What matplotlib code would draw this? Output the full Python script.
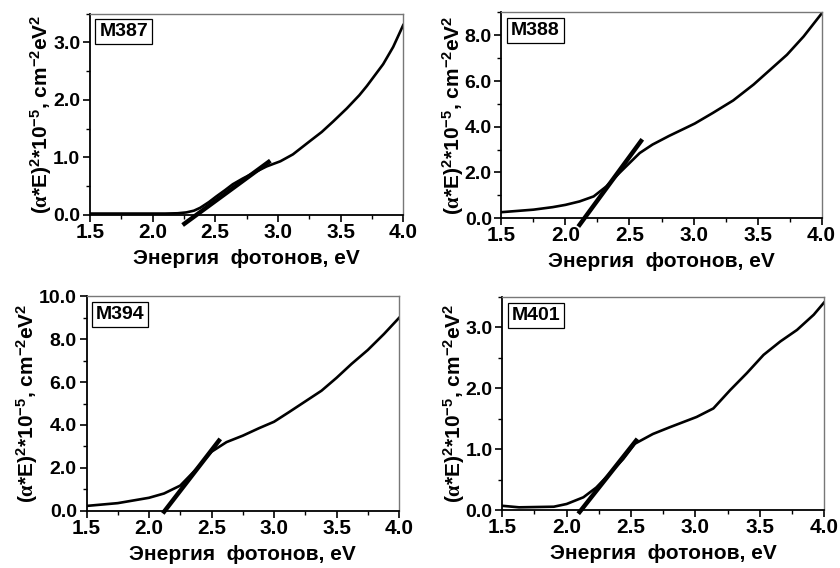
import matplotlib
matplotlib.use("Agg")
import matplotlib.pyplot as plt
from matplotlib.ticker import MultipleLocator, FormatStrFormatter

plt.rcParams['font.family'] = ['Liberation Sans', 'DejaVu Sans']
plt.rcParams['font.weight'] = 'bold'
plt.rcParams['mathtext.fontset'] = 'custom'
plt.rcParams['mathtext.rm'] = 'Liberation Sans:bold'
plt.rcParams['mathtext.bf'] = 'Liberation Sans:bold'
plt.rcParams['mathtext.it'] = 'Liberation Serif'
plt.rcParams['mathtext.cal'] = 'Liberation Serif'

# ---- данные ----
names = ["M387", "M388", "M394", "M401"]

e_387 = [1.5, 1.8, 2.1, 2.2, 2.27, 2.33, 2.38, 2.45, 2.51, 2.58, 2.64, 2.72, 2.8, 2.91,
         3.02, 3.12, 3.255, 3.35, 3.44, 3.55, 3.65, 3.71, 3.84, 3.92, 4.0]
a_387 = [0.02, 0.02, 0.02, 0.025, 0.04, 0.07, 0.12, 0.22, 0.32, 0.43, 0.53, 0.63, 0.72, 0.84,
         0.93, 1.05, 1.28, 1.44, 1.62, 1.85, 2.08, 2.24, 2.62, 2.92, 3.3]
fit_387_e = [2.24, 2.94]
fit_387_a = [-0.18, 0.94]

e_388 = [1.5, 1.75, 1.9, 2.0, 2.11, 2.22, 2.32, 2.42, 2.5, 2.58, 2.68, 2.81, 2.94, 3.01,
         3.15, 3.31, 3.47, 3.6, 3.73, 3.86, 3.93, 4.0]
a_388 = [0.26, 0.37, 0.48, 0.58, 0.73, 0.95, 1.39, 1.97, 2.41, 2.85, 3.22, 3.6, 3.95, 4.14,
         4.6, 5.15, 5.85, 6.5, 7.15, 7.95, 8.45, 8.95]
fit_388_e = [2.1, 2.6]
fit_388_a = [-0.37, 3.45]

e_394 = [1.5, 1.75, 2.0, 2.12, 2.25, 2.38, 2.5, 2.62, 2.75, 2.88, 3.0, 3.12, 3.25,
         3.38, 3.5, 3.62, 3.75, 3.88, 4.0]
a_394 = [0.22, 0.35, 0.6, 0.8, 1.17, 1.95, 2.75, 3.2, 3.5, 3.85, 4.15, 4.6, 5.1,
         5.6, 6.2, 6.85, 7.5, 8.25, 9.0]
fit_394_e = [2.11, 2.57]
fit_394_a = [-0.13, 3.35]

e_401 = [1.5, 1.63, 1.9, 2.0, 2.13, 2.23, 2.33, 2.44, 2.53, 2.67, 2.8, 3.01, 3.14, 3.27,
         3.4, 3.53, 3.66, 3.79, 3.92, 4.0]
a_401 = [0.07, 0.045, 0.055, 0.1, 0.21, 0.37, 0.59, 0.84, 1.09, 1.25, 1.36, 1.53, 1.67, 1.97,
         2.25, 2.55, 2.77, 2.96, 3.21, 3.41]
fit_401_e = [2.09, 2.55]
fit_401_a = [-0.06, 1.17]

energies = [e_387, e_388, e_394, e_401]
values = [a_387, a_388, a_394, a_401]
fits_e = [fit_387_e, fit_388_e, fit_394_e, fit_401_e]
fits_a = [fit_387_a, fit_388_a, fit_394_a, fit_401_a]
y_max = [3.5, 9.0, 10.0, 3.5]
y_major = [1.0, 2.0, 2.0, 1.0]

# положения осей (left, bottom, width, height)
boxes = [[0.107, 0.622, 0.373, 0.354],
         [0.597, 0.616, 0.381, 0.362],
         [0.103, 0.101, 0.372, 0.377],
         [0.598, 0.102, 0.383, 0.375]]

ylab = r'($\mathcal{\alpha}$*E)$^{2}$*10$^{-5}$, cm$^{-2}$eV$^{2}$'

fig = plt.figure(figsize=(8.4, 5.68), dpi=100)

for i in range(4):
    ax = fig.add_axes(boxes[i])
    ax.plot(energies[i], values[i], color="black", lw=1.9)
    ax.plot(fits_e[i], fits_a[i], color="black", lw=3.2, solid_capstyle="butt", clip_on=False)
    ax.set_xlim(1.5, 4.0)
    ax.set_ylim(0, y_max[i])
    ax.xaxis.set_major_locator(MultipleLocator(0.5))
    ax.xaxis.set_minor_locator(MultipleLocator(0.25))
    ax.yaxis.set_major_locator(MultipleLocator(y_major[i]))
    ax.yaxis.set_minor_locator(MultipleLocator(y_major[i] / 2))
    ax.xaxis.set_major_formatter(FormatStrFormatter('%.1f'))
    ax.yaxis.set_major_formatter(FormatStrFormatter('%.1f'))
    ax.tick_params(axis='x', which='major', labelsize=15, length=5, width=1.2, pad=1)
    ax.tick_params(axis='y', which='major', labelsize=14, length=5, width=1.2, pad=2)
    ax.tick_params(which='minor', length=3, width=1)
    for s in ['left', 'bottom']:
        ax.spines[s].set_linewidth(1.3)
        ax.spines[s].set_color('black')
    for s in ['top', 'right']:
        ax.spines[s].set_linewidth(1.0)
        ax.spines[s].set_color('#777777')
    ax.set_xlabel("Энергия  фотонов, eV", fontsize=15, fontweight='bold', labelpad=5)
    ax.set_ylabel(ylab, fontsize=15, fontweight='bold', labelpad=-1)
    ax.text(0.03, 0.955, names[i], transform=ax.transAxes, fontsize=14, fontweight='bold',
            va='top', ha='left',
            bbox=dict(boxstyle='square,pad=0.2', fc='white', ec='black', lw=0.9))

fig.savefig("out.png", dpi=100)
